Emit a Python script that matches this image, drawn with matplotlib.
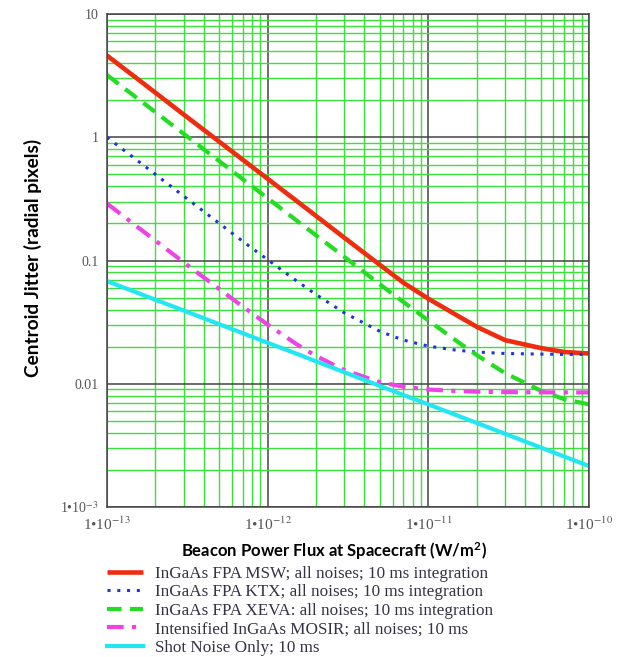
import matplotlib
matplotlib.use('Agg')
import matplotlib.pyplot as plt
import numpy as np

# beacon power flux (W/m^2), read along the x axis
flux = [1e-13, 1.5e-13, 2e-13, 3e-13, 5e-13, 7e-13,
        1e-12, 1.5e-12, 2e-12, 3e-12, 5e-12, 7e-12,
        1e-11, 1.5e-11, 2e-11, 3e-11, 5e-11, 7e-11, 1e-10]

# centroid jitter (radial pixels)
msw = [4.6, 3.07, 2.3, 1.53, 0.92, 0.657,
       0.46, 0.307, 0.23, 0.153, 0.092, 0.066,
       0.049, 0.036, 0.029, 0.0226, 0.0195, 0.0181, 0.0176]
ktx = [1.0, 0.667, 0.5, 0.333, 0.2, 0.143,
       0.1015, 0.0689, 0.053, 0.0376, 0.0266, 0.0226,
       0.0202, 0.0187, 0.0181, 0.0176, 0.0174, 0.0173, 0.0173]
xeva = [3.2, 2.13, 1.6, 1.067, 0.64, 0.457,
        0.32, 0.213, 0.16, 0.107, 0.064, 0.046,
        0.0326, 0.0222, 0.0171, 0.0122, 0.0088, 0.0075, 0.0068]
mosir = [0.29, 0.193, 0.145, 0.0967, 0.0586, 0.0423,
         0.0302, 0.0211, 0.0168, 0.0129, 0.0103, 0.00946,
         0.00898, 0.00873, 0.00862, 0.00855, 0.00852, 0.0085, 0.0085]
shot = [0.068, 0.0555, 0.0481, 0.0393, 0.0304, 0.0257,
        0.0215, 0.0176, 0.0152, 0.0124, 0.0096, 0.0081,
        0.0068, 0.00555, 0.00481, 0.00393, 0.00304, 0.00257, 0.00215]

labels = ['InGaAs FPA MSW; all noises; 10 ms integration',
          'InGaAs FPA KTX; all noises; 10 ms integration',
          'InGaAs FPA XEVA: all noises; 10 ms integration',
          'Intensified InGaAs MOSIR; all noises; 10 ms',
          'Shot Noise Only; 10 ms']

xticks = [1e-13, 1e-12, 1e-11, 1e-10]
xticklabels = ['1•10$^{-13}$', '1•10$^{-12}$', '1•10$^{-11}$', '1•10$^{-10}$']
yticks = [1e-3, 1e-2, 1e-1, 1, 10]
yticklabels = ['1•10$^{-3}$', '0.01', '0.1', '1', '10']

plt.rcParams['mathtext.fontset'] = 'stix'

fig = plt.figure(figsize=(6.21, 6.57), dpi=100)
ax = fig.add_axes([0.1723, 0.2283, 0.7762, 0.7504])

ax.set_xscale('log')
ax.set_yscale('log')
ax.set_xlim(1e-13, 1e-10)
ax.set_ylim(1e-3, 10)

# grid first so curves sit on top
ax.grid(which='minor', color='#3be03b', lw=1.0)
ax.grid(which='major', color='#444444', lw=1.1)
ax.set_axisbelow(True)

ax.plot(flux, msw, color='#f02c10', lw=3.3, solid_capstyle='butt', label=labels[0])
ax.plot(flux, ktx, color='#2233dd', lw=2.2, linestyle=(0, (1, 2.2)), label=labels[1])
ax.plot(flux, xeva, color='#22dd22', lw=3, linestyle=(0, (3.5, 2)), label=labels[2])
ax.plot(flux, mosir, color='#ee44e6', lw=3, linestyle=(0, (4, 2, 1, 2)), label=labels[3])
ax.plot(flux, shot, color='#22e6f2', lw=3, label=labels[4])

ax.set_xticks(xticks)
ax.set_xticklabels(xticklabels)
ax.set_yticks(yticks)
ax.set_yticklabels(yticklabels)
ax.tick_params(which='both', length=0)
ax.tick_params(axis='x', pad=6)
ax.tick_params(axis='y', pad=6)
for t in ax.get_xticklabels() + ax.get_yticklabels():
    t.set_family('Liberation Serif')
    t.set_fontsize(11)
    t.set_color('#555555')
for t in ax.get_yticklabels():
    t.set_fontsize(10)

for s in ax.spines.values():
    s.set_color('#444444')
    s.set_linewidth(1.1)

ax.set_xlabel('Beacon Power Flux at Spacecraft (W/m$^{\\mathregular{2}}$)',
              family='Lato', weight='bold', fontsize=12)
ax.xaxis.set_label_coords(0.471, -0.068)
ax.set_ylabel('Centroid Jitter (radial pixels)', family='Lato', weight='bold',
              fontsize=13.7)
ax.yaxis.set_label_coords(-0.135, 0.505)

leg = fig.legend(loc='upper left', bbox_to_anchor=(0.172, 0.139), frameon=False,
                 prop={'family': 'Liberation Serif', 'size': 12.3},
                 handlelength=2.1, handletextpad=0.75, labelspacing=0.15,
                 borderpad=0, borderaxespad=0)
for t in leg.get_texts():
    t.set_color('#333344')

fig.savefig('out.png', dpi=100)
